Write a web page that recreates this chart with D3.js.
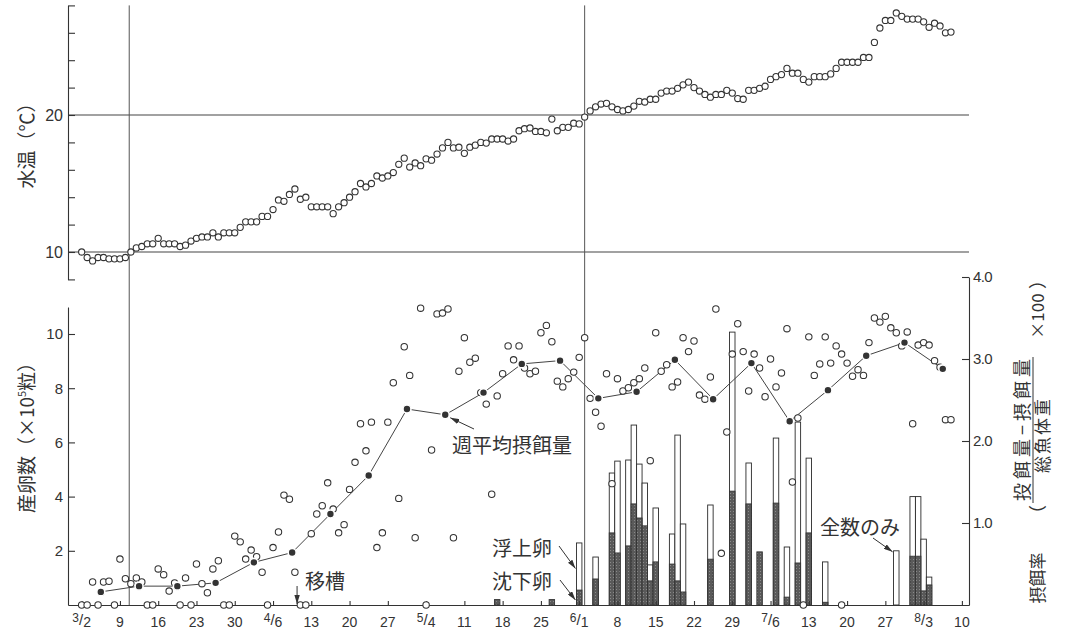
<!DOCTYPE html>
<html><head><meta charset="utf-8">
<script src="https://cdn.jsdelivr.net/npm/d3@7"></script>
<style>
html,body{margin:0;padding:0;background:#fff;}
svg{display:block;}
svg text{-webkit-font-smoothing:antialiased;}
</style></head><body>
<svg id="chart" width="1066" height="633"></svg>
<script>
// Day index 0 = 3/2; one value per day.
const waterTemp = [
  10.0,9.6,9.35,9.6,9.6,9.5,9.5,9.5,9.6,10.0,
  10.3,10.4,10.6,10.6,11.0,10.6,10.6,10.6,10.4,10.5,
  10.8,11.0,11.1,11.1,11.4,11.1,11.4,11.4,11.4,11.8,
  12.2,12.2,12.2,12.6,12.6,13.1,13.8,13.7,14.2,14.6,
  13.85,14.0,13.3,13.3,13.3,13.3,12.8,13.3,13.6,14.0,
  14.4,15.0,14.75,15.0,15.55,15.4,15.55,15.8,16.4,16.85,
  16.2,16.5,16.3,16.8,16.7,17.15,17.6,18.0,17.6,17.65,
  17.2,17.65,17.8,18.0,17.95,18.25,18.25,18.25,18.1,18.25,
  18.85,19.0,19.05,18.8,18.8,18.7,19.7,18.85,19.1,19.1,
  19.4,19.35,19.85,20.3,20.6,20.8,20.85,20.6,20.4,20.3,
  20.4,20.65,21.0,20.95,21.15,21.15,21.6,21.75,21.75,21.95,
  22.2,22.4,22.0,21.75,21.5,21.3,21.5,21.5,21.8,21.6,
  21.2,21.15,21.8,21.8,21.95,22.1,22.6,22.8,22.95,23.4,
  23.05,23.05,22.6,22.4,22.8,22.8,22.8,23.0,23.4,23.85,
  23.85,23.85,23.85,24.2,24.2,25.3,26.35,26.9,26.9,27.45,
  27.2,27.0,27.0,27.0,26.8,26.4,26.7,26.5,26.0,26.05
];

// Daily feeding rate (%), day index 0 = 3/2
const feedRate = [
  0,0,0.28,0,0.28,0.29,0,0.56,0.32,0.26,
  0.33,0.28,0,0,0.44,0.37,0.17,0.27,0,0.33,
  0,0.50,0.26,0.15,0.44,0.54,0,0,0.84,0.77,
  0.56,0.67,0.59,0.40,0,0.70,0.89,1.34,1.29,0.40,
  0,0,0.87,1.11,1.21,1.49,1.17,0.88,0.98,1.41,
  1.74,2.21,1.88,2.23,0.70,0.88,2.23,2.71,1.30,3.15,
  2.80,0.82,3.62,0,1.89,3.55,3.56,3.61,0.82,2.85,
  3.26,2.96,3.01,2.59,2.45,1.35,2.55,2.82,3.16,2.99,
  3.16,2.89,2.82,2.85,3.32,3.41,3.21,2.73,2.66,2.76,
  2.84,3.02,3.26,2.52,2.35,2.18,2.82,1.48,2.76,2.61,
  2.65,2.71,2.76,2.89,1.76,3.32,2.85,2.93,2.66,2.72,
  3.26,3.09,3.22,2.56,2.51,2.78,3.61,0.63,2.11,3.06,
  3.43,3.09,2.61,3.06,2.89,2.54,3.00,2.66,2.83,3.37,
  1.50,2.28,0,3.27,2.80,2.94,3.27,2.95,3.16,3.06,
  2.95,2.79,2.87,2.80,3.20,3.50,3.45,3.52,3.38,3.32,
  3.16,3.33,2.21,3.17,3.20,3.17,2.98,2.90,2.26,2.26
];
const extraFeedDays = [139];
const extraFeedRate = [0];

// Weekly mean feeding rate, one per week starting 3/2
const weeklyFeed = [0.16,0.23,0.23,0.27,0.52,0.64,1.11,1.58,2.39,2.32,2.59,2.94,
                    2.98,2.52,2.60,2.99,2.51,2.95,2.24,2.62,3.04,3.20,2.88];

// Spawned eggs (x10^5): total and sinking part; null = only total counted
const eggDays    = [76,86,91,94,97,98,100,101,102,103,104,105,108,109,110,115,119,122,124,127,129,131,133,136,149,152,153,154,155];
const eggTotal   = [0.2,0.2,2.29,1.77,4.87,5.31,5.35,6.64,5.20,4.50,1.48,3.58,2.62,6.27,2.99,3.69,10.07,5.24,1.96,6.16,2.14,6.75,5.42,1.59,2.00,4.00,4.00,2.43,1.03];
const eggSinking = [0.2,0.2,0.55,0.96,2.66,1.92,2.18,3.73,3.21,2.92,0.89,1.59,1.51,0.89,0.48,1.69,4.20,3.73,1.96,3.76,0.29,1.55,2.66,0.10,null,1.80,1.80,0.52,0.74];

const dateTickDays = [0,7,14,21,28,35,42,49,56,63,70,77,84,91,98,105,112,119,126,133,140,147,154,161];
const dateTickLabels = ["3/2","9","16","23","30","4/6","13","20","27","5/4","11","18","25","6/1","8","15","22","29","7/6","13","20","27","8/3","10"];
const tempTicks = [8,10,12,14,16,18,20,22,24,26,28];
const tempLabelled = [10,20];
const eggTicks = [2,4,6,8,10];
const rateTicks = [1,2,3,4];
const markerDays = [8.7, 92];
const transferDay = 39.4;

const svg = d3.select("#chart");
const X0 = 68, X1 = 969, BASE = 605;
const ink = "#333";
const numFont = "'Liberation Sans', Arial, sans-serif";
const jpFont = "'Noto Sans CJK JP', 'Noto Sans', sans-serif";

const x  = d3.scaleLinear().domain([-2.5, 162.3]).range([X0, X1]);
const yT = d3.scaleLinear().domain([8, 28]).range([279.4, 5.4]);
const yE = d3.scaleLinear().domain([0, 11]).range([BASE, 306.9]);
const yR = d3.scaleLinear().domain([0, 4]).range([BASE, 277]);

const defs = svg.append("defs");
const pat = defs.append("pattern").attr("id", "stip")
  .attr("width", 3).attr("height", 3).attr("patternUnits", "userSpaceOnUse");
pat.append("rect").attr("width", 3).attr("height", 3).attr("fill", "#5a5a5a");
pat.append("rect").attr("x", 1).attr("y", 1).attr("width", 1).attr("height", 1).attr("fill", "#8a8a8a");
defs.append("marker").attr("id", "arr").attr("viewBox", "0 0 10 6")
  .attr("refX", 10).attr("refY", 3).attr("markerWidth", 9).attr("markerHeight", 5.4)
  .attr("markerUnits", "userSpaceOnUse").attr("orient", "auto")
  .append("path").attr("d", "M0,0L10,3L0,6Z").attr("fill", ink);

// reference lines
svg.append("g").selectAll("line").data(tempLabelled).join("line")
  .attr("x1", X0).attr("x2", X1).attr("y1", d => yT(d)).attr("y2", d => yT(d))
  .attr("stroke", "#444").attr("stroke-width", 1.1);
svg.append("g").selectAll("line").data(markerDays).join("line")
  .attr("x1", d => x(d)).attr("x2", d => x(d)).attr("y1", yT(28)).attr("y2", BASE)
  .attr("stroke", "#555").attr("stroke-width", 1);

function styleAxis(g, size) {
  g.attr("font-family", numFont).attr("font-size", size);
  g.selectAll("path,line").attr("stroke", ink).attr("stroke-width", 1.1);
  g.selectAll("text").attr("fill", ink);
}

// temperature axis
const gT = svg.append("g").attr("transform", `translate(${X0},0)`)
  .call(d3.axisLeft(yT).tickValues(tempTicks).tickSize(-7).tickSizeOuter(0).tickPadding(5)
    .tickFormat(d => tempLabelled.includes(d) ? d : ""));
styleAxis(gT, 16);

// egg count axis
const gE = svg.append("g").attr("transform", `translate(${X0},0)`)
  .call(d3.axisLeft(yE).tickValues(eggTicks).tickSize(-7).tickSizeOuter(0).tickPadding(5));
styleAxis(gE, 15);

// feeding rate axis
const gR = svg.append("g").attr("transform", `translate(${X1},0)`)
  .call(d3.axisRight(yR).tickValues(rateTicks).tickSize(-7).tickSizeOuter(0).tickPadding(4)
    .tickFormat(d3.format(".1f")));
styleAxis(gR, 15);
gR.selectAll("text").attr("letter-spacing", -0.6);

// egg bars
const bw = x(1) - x(0);
const eggs = eggDays.map((d, i) => ({ d, total: eggTotal[i], sink: eggSinking[i] }));
const gB = svg.append("g");
gB.selectAll("rect.tot").data(eggs.filter(e => e.sink === null || e.total > e.sink)).join("rect")
  .attr("class", "tot")
  .attr("x", e => x(e.d) - bw / 2).attr("width", bw)
  .attr("y", e => yE(e.total)).attr("height", e => BASE - yE(e.total))
  .attr("fill", "#fff").attr("stroke", "#2a2a2a").attr("stroke-width", 0.9);
gB.selectAll("rect.sink").data(eggs.filter(e => e.sink)).join("rect")
  .attr("class", "sink")
  .attr("x", e => x(e.d) - bw / 2).attr("width", bw)
  .attr("y", e => yE(e.sink)).attr("height", e => BASE - yE(e.sink))
  .attr("fill", "url(#stip)").attr("stroke", "#333").attr("stroke-width", 0.9);

// x axis
const gX = svg.append("g").attr("transform", `translate(0,${BASE})`)
  .call(d3.axisBottom(x).tickValues(dateTickDays).tickSize(-4).tickSizeOuter(0).tickFormat(""));
styleAxis(gX, 14);

svg.append("g").attr("font-family", numFont).attr("fill", ink)
  .selectAll("text").data(dateTickLabels).join("text")
  .attr("x", (d, i) => x(dateTickDays[i])).attr("y", 627)
  .attr("text-anchor", "middle").attr("font-size", 14)
  .each(function (d) {
    const t = d3.select(this);
    if (d.includes("/")) {
      const [m, dd] = d.split("/");
      t.append("tspan").attr("font-size", 12).attr("dy", -5).text(m);
      t.append("tspan").attr("font-size", 15).attr("dy", 3).text("/");
      t.append("tspan").attr("dy", 2).text(dd);
    } else t.text(d);
  });

// temperature points
svg.append("g").selectAll("circle").data(waterTemp).join("circle")
  .attr("cx", (v, i) => x(i)).attr("cy", v => yT(v)).attr("r", 3.1)
  .attr("fill", "#fff").attr("stroke", "#333").attr("stroke-width", 1.1);

// weekly mean line
const weekly = weeklyFeed.map((v, k) => ({ d: k * 7 + 3.5, v }));
svg.append("path").datum(weekly)
  .attr("d", d3.line().x(p => x(p.d)).y(p => yR(p.v)))
  .attr("fill", "none").attr("stroke", "#444").attr("stroke-width", 1);

// daily feeding rate
const feed = feedRate.map((v, i) => ({ d: i, v }))
  .concat(extraFeedDays.map((d, i) => ({ d, v: extraFeedRate[i] })));
svg.append("g").selectAll("circle").data(feed).join("circle")
  .attr("cx", p => x(p.d)).attr("cy", p => yR(p.v)).attr("r", 3.2)
  .attr("fill", "#fff").attr("stroke", "#333").attr("stroke-width", 1.05);

svg.append("g").selectAll("circle").data(weekly).join("circle")
  .attr("cx", p => x(p.d)).attr("cy", p => yR(p.v)).attr("r", 4)
  .attr("fill", "#333").attr("stroke", "#fff").attr("stroke-width", 1.6);

// annotations
const ann = svg.append("g").attr("font-family", jpFont).attr("fill", ink).attr("font-size", 20);
function arrow(x1, y1, x2, y2) {
  svg.append("line").attr("x1", x1).attr("y1", y1).attr("x2", x2).attr("y2", y2)
    .attr("stroke", ink).attr("stroke-width", 1).attr("marker-end", "url(#arr)");
}
const w9 = weekly[9];
ann.append("text").attr("x", 452).attr("y", 453).text("週平均摂餌量");
arrow(474, 429, x(w9.d) + 5, yR(w9.v) + 3);

ann.append("text").attr("x", 305).attr("y", 589).text("移槽");
arrow(x(transferDay), 586, x(transferDay), BASE - 1);

const eA = eggs.find(e => e.d === 91);
ann.append("text").attr("x", 492).attr("y", 556).text("浮上卵");
arrow(559, 546, x(eA.d - 0.5) - 1, yE((eA.total + eA.sink) / 2) + 2);
ann.append("text").attr("x", 492).attr("y", 589).text("沈下卵");
arrow(560, 580, x(eA.d - 0.5) - 1, yE(eA.sink / 3));

const eW = eggs.find(e => e.sink === null);
ann.append("text").attr("x", 820).attr("y", 535).text("全数のみ");
arrow(873, 538, x(eW.d - 0.5) - 1, yE(eW.total) + 1);

// axis titles
const titles = svg.append("g").attr("font-family", jpFont).attr("fill", ink);
titles.append("text").attr("transform", "translate(27,141) rotate(-90)")
  .attr("text-anchor", "middle").attr("y", 7).attr("font-size", 19).text("水温（℃）");
const tE = titles.append("text").attr("transform", "translate(27,433) rotate(-90)")
  .attr("text-anchor", "middle").attr("y", 7).attr("font-size", 19);
tE.append("tspan").text("産卵数（×10");
tE.append("tspan").attr("font-size", 11).attr("dy", -8).text("5");
tE.append("tspan").attr("dy", 8).text("粒）");

// right title: 摂餌率 (投餌量−摂餌量 / 総魚体重 ×100), written bottom to top
const tR = titles.append("g").attr("transform", "translate(1033,430) rotate(-90)");
tR.append("line").attr("x1", -73).attr("x2", 73).attr("y1", 0).attr("y2", 0)
  .attr("stroke", ink).attr("stroke-width", 1);
tR.append("text").attr("x", 0).attr("y", -4).attr("text-anchor", "middle")
  .attr("font-size", 18).attr("textLength", 142).attr("lengthAdjust", "spacing")
  .text("投餌量−摂餌量");
tR.append("text").attr("x", -6).attr("y", 16).attr("text-anchor", "middle")
  .attr("font-size", 17).attr("textLength", 74).attr("lengthAdjust", "spacing")
  .text("総魚体重");
tR.append("text").attr("x", -148).attr("y", 11).attr("text-anchor", "middle")
  .attr("font-size", 17).text("摂餌率");
tR.append("text").attr("x", -84).attr("y", 11).attr("text-anchor", "middle")
  .attr("font-size", 18).text("（");
tR.append("text").attr("x", 114).attr("y", 11).attr("text-anchor", "middle")
  .attr("font-size", 17).text("×100");
tR.append("text").attr("x", 150).attr("y", 11).attr("text-anchor", "middle")
  .attr("font-size", 18).text("）");
</script>
</body></html>
